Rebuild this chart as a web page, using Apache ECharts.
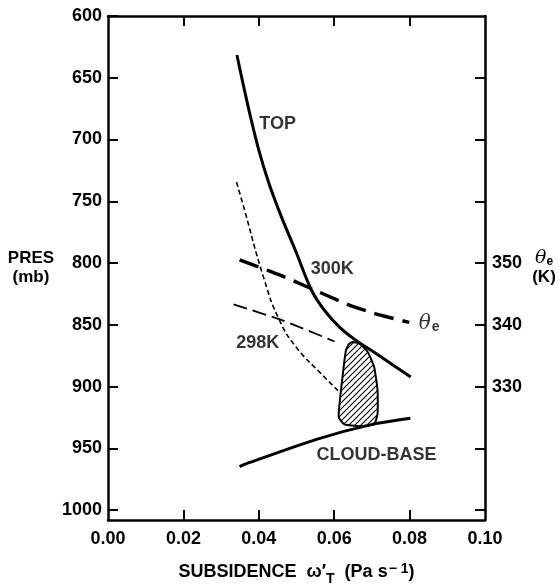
<!DOCTYPE html>
<html>
<head>
    <meta charset="utf-8">
    <title>Subsidence vs pressure</title>
    <script src="https://cdn.jsdelivr.net/npm/echarts@6.0.0/dist/echarts.min.js"></script>
    <style>
        html, body {
            margin: 0;
            padding: 0;
            background-color: #fff;
        }
        #chart {
            width: 559px;
            height: 584px;
        }
    </style>
</head>
<body>
    <div id="chart"></div>
    <script>
        // axis ticks
        const xTickLabels = [0, 0.02, 0.04, 0.06, 0.08, 0.1];
        const xTickMarks = [0.02, 0.04, 0.06, 0.08];
        const presTicks = [600, 650, 700, 750, 800, 850, 900, 950, 1000];
        const thetaTicks = [310, 320, 330, 340, 350, 360, 370, 380];
        const thetaLabels = [330, 340, 350];

        // TOP curve (subsidence, pressure mb)
        const topX = [0.0342, 0.0358, 0.0378, 0.0400, 0.0427, 0.0460, 0.0497, 0.0540, 0.0574, 0.0614, 0.0658, 0.0711, 0.0803];
        const topP = [631.6, 654.5, 681.6, 708.6, 735.6, 762.6, 789.6, 822.0, 838.2, 851.8, 862.6, 873.3, 892.3];

        // theta-e curve (subsidence, K on right axis)
        const thetaX = [0.0349, 0.045, 0.0534, 0.064, 0.072, 0.0799];
        const thetaK = [350.5, 348.2, 346.0, 343.2, 341.6, 340.4];

        // thin dashed curve
        const thinX = [0.0341, 0.0357, 0.0415, 0.0455, 0.0499, 0.0565, 0.0614];
        const thinP = [734.5, 751.5, 813.9, 846.4, 868.0, 889.5, 904.4];

        // medium dashed curve
        const midX = [0.0333, 0.0463, 0.0601];
        const midP = [833.4, 846.4, 863.5];

        // CLOUD-BASE curve
        const baseX = [0.0349, 0.0376, 0.0553, 0.0701, 0.0802];
        const baseP = [964.7, 961.4, 942.7, 930.6, 925.7];

        // hatched region outline
        const hatchX = [0.0649, 0.0667, 0.0689, 0.0706, 0.0715, 0.0715, 0.0706, 0.0667, 0.0627, 0.0612, 0.0616, 0.0624, 0.0631, 0.064];
        const hatchP = [863.9, 865.2, 872.0, 884.2, 903.1, 922.0, 930.6, 932.0, 930.6, 924.7, 908.5, 886.9, 870.7, 865.2];

        // text labels inside the plot
        const labelText = ['TOP', '300K', '298K', '{th|θ}{sub|e}', 'CLOUD-BASE'];
        const labelX = [0.045, 0.0595, 0.0397, 0.0852, 0.0712];
        const labelP = [687.5, 805, 865, 848.8, 955.8];

        const font = '"Liberation Sans", Arial, sans-serif';
        const zip = (a, b) => a.map((v, i) => [v, b[i]]);

        // diagonal hatch pattern
        const pat = document.createElement('canvas');
        pat.width = 6;
        pat.height = 6;
        const pc = pat.getContext('2d');
        pc.strokeStyle = '#000';
        pc.lineWidth = 1.1;
        pc.beginPath();
        pc.moveTo(0, 6); pc.lineTo(6, 0);
        pc.moveTo(-1, 1); pc.lineTo(1, -1);
        pc.moveTo(5, 7); pc.lineTo(7, 5);
        pc.stroke();

        const axisLine = { show: true, onZero: false, lineStyle: { color: '#000', width: 2.5 } };
        const tickStyle = { color: '#000', width: 2 };
        const tickText = { color: '#000', fontSize: 18, fontFamily: font, fontWeight: 'bold' };

        const chart = echarts.init(document.getElementById('chart'));
        const option = {
            backgroundColor: '#fff',
            animation: false,
            grid: { left: 108, right: 74, top: 16, bottom: 64, containLabel: false, outerBoundsMode: 'none' },
            xAxis: [
                {
                    type: 'value',
                    position: 'bottom',
                    min: 0,
                    max: 0.1,
                    interval: 0.02,
                    axisLine: axisLine,
                    axisTick: { show: true, inside: true, length: 10, lineStyle: tickStyle, customValues: xTickMarks },
                    axisLabel: Object.assign({}, tickText, {
                        margin: 10,
                        customValues: xTickLabels,
                        formatter: v => v.toFixed(2)
                    }),
                    splitLine: { show: false },
                    name: '{a|SUBSIDENCE  ω\u2032}{sub|T}{a|  (Pa s}{sup|\u2212 1}{a|)}',
                    nameLocation: 'middle',
                    nameGap: 39,
                    nameTextStyle: {
                        color: '#000',
                        rich: {
                            a: { fontSize: 18, fontFamily: font, fontWeight: 'bold', color: '#000' },
                            sub: { fontSize: 14, fontFamily: font, fontWeight: 'bold', color: '#000', padding: [13, 0, 0, 0] },
                            sup: { fontSize: 14, fontFamily: font, fontWeight: 'bold', color: '#000', padding: [0, 0, 7, 1] }
                        }
                    }
                },
                {
                    type: 'value',
                    position: 'top',
                    min: 0,
                    max: 0.1,
                    interval: 0.02,
                    axisLine: axisLine,
                    axisTick: { show: true, inside: true, length: 10, lineStyle: tickStyle, customValues: xTickMarks },
                    axisLabel: { show: false },
                    splitLine: { show: false }
                }
            ],
            yAxis: [
                {
                    type: 'value',
                    position: 'left',
                    inverse: true,
                    min: 600,
                    max: 1008,
                    interval: 50,
                    axisLine: axisLine,
                    axisTick: { show: true, inside: true, length: 10, lineStyle: tickStyle, customValues: presTicks },
                    axisLabel: Object.assign({}, tickText, { margin: 6, customValues: presTicks, formatter: v => String(v) }),
                    splitLine: { show: false },
                    name: 'PRES\n(mb)',
                    nameLocation: 'middle',
                    nameRotate: 0,
                    nameGap: 77,
                    nameTextStyle: { color: '#000', fontSize: 17, fontFamily: font, fontWeight: 'bold', align: 'center', verticalAlign: 'middle', lineHeight: 19 }
                },
                {
                    type: 'value',
                    position: 'right',
                    min: 308.4,
                    max: 390,
                    interval: 10,
                    axisLine: axisLine,
                    axisTick: { show: true, inside: true, length: 10, lineStyle: tickStyle, customValues: thetaTicks },
                    axisLabel: Object.assign({}, tickText, { margin: 7, customValues: thetaLabels }),
                    splitLine: { show: false },
                    name: '{th|θ}{sub|e}\n{k|(K)}',
                    nameLocation: 'middle',
                    nameRotate: 0,
                    nameGap: 59,
                    nameTextStyle: {
                        align: 'center',
                        verticalAlign: 'middle',
                        rich: {
                            th: { fontSize: 19, fontFamily: '"DejaVu Serif", serif', fontStyle: 'italic', color: '#000', lineHeight: 19 },
                            sub: { fontSize: 12, fontFamily: font, fontWeight: 'bold', color: '#000', padding: [7, 0, 0, 0], lineHeight: 19 },
                            k: { fontSize: 17, fontFamily: font, fontWeight: 'bold', color: '#000', lineHeight: 19 }
                        }
                    }
                }
            ],
            series: [
                {
                    name: 'TOP',
                    type: 'line',
                    data: zip(topX, topP),
                    smooth: 0.35,
                    showSymbol: false,
                    lineStyle: { color: '#000', width: 3 }
                },
                {
                    name: 'theta-e',
                    type: 'line',
                    yAxisIndex: 1,
                    data: zip(thetaX, thetaK),
                    smooth: 0.2,
                    showSymbol: false,
                    lineStyle: { color: '#000', width: 3.5, type: [20, 9] }
                },
                {
                    name: 'thin',
                    type: 'line',
                    data: zip(thinX, thinP),
                    smooth: 0.5,
                    showSymbol: false,
                    lineStyle: { color: '#000', width: 1.6, type: [5, 3] }
                },
                {
                    name: 'mid',
                    type: 'line',
                    data: zip(midX, midP),
                    smooth: 0.2,
                    showSymbol: false,
                    lineStyle: { color: '#000', width: 1.8, type: [14, 6] }
                },
                {
                    name: 'CLOUD-BASE',
                    type: 'line',
                    data: zip(baseX, baseP),
                    smooth: 0.2,
                    showSymbol: false,
                    lineStyle: { color: '#000', width: 3 }
                },
                {
                    name: 'hatch',
                    type: 'custom',
                    data: [[hatchX[0], hatchP[0]]],
                    renderItem: function (params, api) {
                        const pts = hatchX.map((x, i) => api.coord([x, hatchP[i]]));
                        return {
                            type: 'polygon',
                            shape: { points: pts, smooth: 0.15 },
                            style: { fill: { image: pat, repeat: 'repeat' }, stroke: '#000', lineWidth: 2 }
                        };
                    }
                },
                {
                    name: 'labels',
                    type: 'scatter',
                    symbolSize: 1,
                    itemStyle: { color: 'rgba(0,0,0,0)' },
                    data: labelText.map((t, i) => ({ name: t, value: [labelX[i], labelP[i]] })),
                    label: {
                        show: true,
                        position: 'inside',
                        formatter: p => p.name,
                        color: '#000',
                        fontSize: 18,
                        fontFamily: font,
                        fontWeight: 'bold',
                        rich: {
                            th: { fontSize: 20, fontFamily: '"DejaVu Serif", serif', fontStyle: 'italic', fontWeight: 'normal', color: '#000' },
                            sub: { fontSize: 14, fontFamily: font, fontWeight: 'bold', color: '#000', padding: [8, 0, 0, 1] }
                        }
                    }
                }
            ]
        };
        chart.setOption(option);
    </script>
</body>
</html>
